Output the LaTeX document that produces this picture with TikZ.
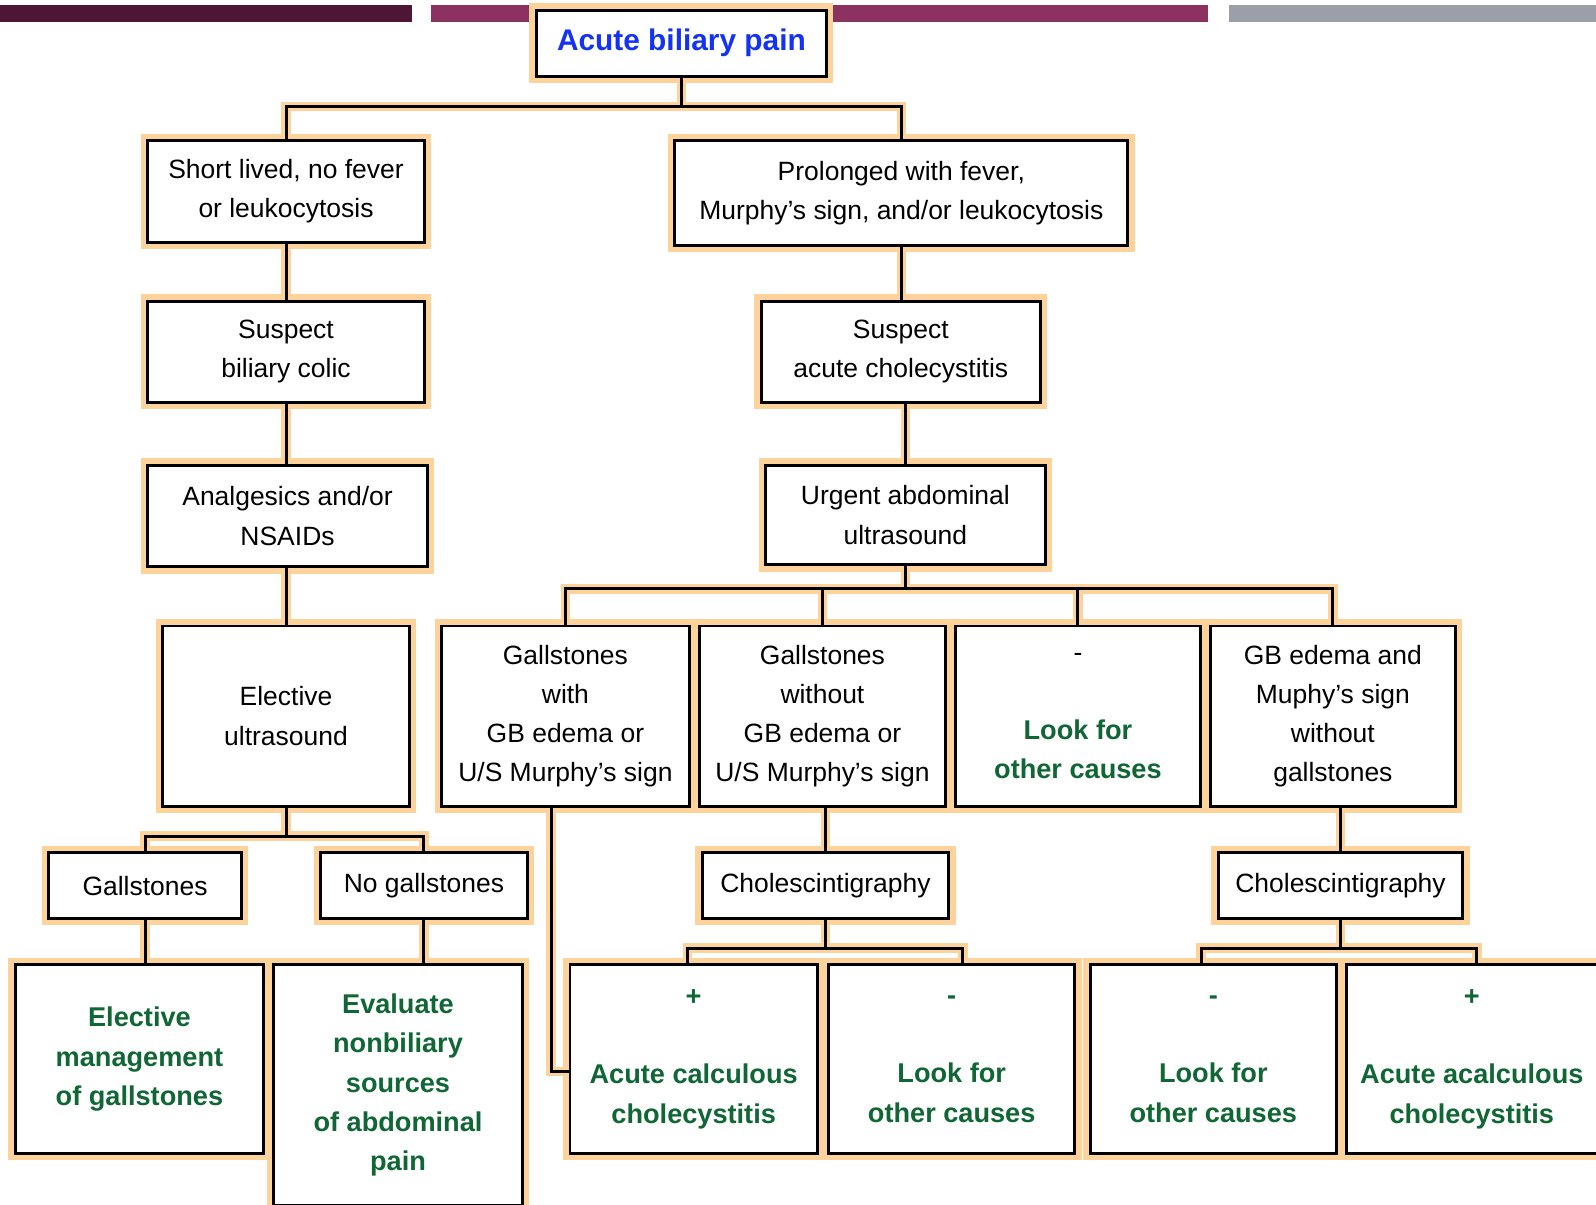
\documentclass[tikz,border=0pt]{standalone}
\usepackage{fontspec}
\setmainfont{Liberation Sans}
\usetikzlibrary{calc}
\pgfdeclarelayer{bg}
\pgfsetlayers{bg,main}
\definecolor{halo}{RGB}{253,211,155}
\definecolor{gtext}{RGB}{16,102,52}
\definecolor{btext}{RGB}{20,50,245}
\definecolor{barA}{RGB}{77,22,52}
\definecolor{barB}{RGB}{140,49,96}
\definecolor{barC}{RGB}{155,160,168}
\newcommand\conn[1]{\begin{pgfonlayer}{bg}\draw[haloline] #1;\end{pgfonlayer}\draw[cline] #1;}
\begin{document}
\begin{tikzpicture}[x=0.75pt,y=-0.75pt,
  box/.style={draw=black, line width=2.2pt, fill=white, inner sep=0pt, align=center,
    font=\fontsize{19.5}{28.9}\selectfont},
  gr/.style={font=\fontsize{20}{28.9}\selectfont\bfseries, text=gtext},
  sz/.style 2 args={minimum width=#1*0.75pt, minimum height=#2*0.75pt},
  cline/.style={draw=black, line width=2.2pt},
  haloline/.style={draw=halo, line width=7pt},
  halobox/.style={draw=halo, line width=8pt}]
\useasboundingbox (0,0) rectangle (1568,1183);
\begin{pgfonlayer}{bg}
\fill[barA] (0,5) rectangle (405,22);
\fill[barB] (423,5) rectangle (1187,22);
\fill[barC] (1207,5) rectangle (1568,22);
\end{pgfonlayer}

\node[box,sz={285}{65}] (A) at (669.5,42.5) {\color{btext}\fontsize{22}{28}\selectfont\bfseries Acute biliary pain};
\node[box,sz={272}{100}] (B1) at (281,188) {Short lived, no fever\\or leukocytosis};
\node[box,sz={445}{103}] (B2) at (885.5,189.5) {Prolonged with fever,\\Murphy's sign, and/or leukocytosis};
\node[box,sz={272}{99}] (C1) at (281,345.5) {Suspect\\biliary colic};
\node[box,sz={274}{99}] (C2) at (885,345.5) {Suspect\\acute cholecystitis};
\node[box,sz={275}{100}] (D1) at (282.5,507) {Analgesics and/or\\NSAIDs};
\node[box,sz={275}{98}] (D2) at (889.5,506) {Urgent abdominal\\ultrasound};
\node[box,sz={242}{177}] (E1) at (281,703.5) {Elective\\ultrasound};
\node[box,sz={243}{177}] (F1) at (555.5,703.5) {Gallstones\\with\\GB edema or\\U/S Murphy's sign};
\node[box,sz={242}{177}] (F2) at (808,703.5) {Gallstones\\without\\GB edema or\\U/S Murphy's sign};
\node[box,sz={240}{177}] (F3) at (1059,703.5) {-\\[28.9pt]{\color{gtext}\fontsize{20}{28.9}\selectfont\bfseries Look for}\\{\color{gtext}\fontsize{20}{28.9}\selectfont\bfseries other causes}};
\node[box,sz={241}{177}] (F4) at (1309.5,703.5) {GB edema and\\Muphy's sign\\without\\gallstones};
\node[box,sz={189}{64}] (G1) at (142.5,870) {Gallstones};
\node[box,sz={203}{64}] (G2) at (416.5,870) {No gallstones};
\node[box,sz={242}{64}] (J1) at (811,870) {Cholescintigraphy};
\node[box,sz={240}{64}] (J2) at (1317,870) {Cholescintigraphy};
\node[box,gr,sz={244}{185}] (H1) at (137,1040.5) {Elective\\management\\of gallstones};
\node[box,gr,sz={244}{236}] (H2) at (391,1066) {Evaluate\\nonbiliary\\sources\\of abdominal\\pain};
\node[box,gr,sz={243}{185}] (I1) at (681.5,1040.5) {+\\[28.9pt]Acute calculous\\cholecystitis};
\node[box,gr,sz={242}{185}] (I2) at (935,1040.5) {-\\[28.9pt]Look for\\other causes};
\node[box,gr,sz={242}{185}] (I3) at (1192,1040.5) {-\\[28.9pt]Look for\\other causes};
\node[box,gr,sz={246}{185}] (I4) at (1446,1040.5) {+\\[28.9pt]Acute acalculous\\cholecystitis};

\begin{pgfonlayer}{bg}
\foreach \n in {A,B1,B2,C1,C2,D1,D2,E1,F1,F2,F3,F4,G1,G2,J1,J2,H1,H2,I1,I2,I3,I4}
  {\draw[halobox] (\n.south west) rectangle (\n.north east);}
\end{pgfonlayer}

\coordinate (ab) at ($(A.south)+(0,28)$);
\coordinate (dbus) at ($(D2.south)+(0,22)$);
\coordinate (ebus) at ($(E1.south)+(0,28)$);
\coordinate (jbus) at ($(J1.south)+(0,28)$);
\coordinate (kbus) at ($(J2.south)+(0,28)$);

\conn{(A.south) -- (ab) -| (B1.north)}
\conn{(ab) -| (B2.north)}
\conn{(B1.south) -- (C1.north)}
\conn{(B2.south) -- (B2.south |- C2.north)}
\conn{(C1.south) -- (C1.south |- D1.north)}
\conn{(D2.north |- C2.south) -- (D2.north)}
\conn{(E1.north |- D1.south) -- (E1.north)}
\conn{(D2.south) -- (dbus) -| (F1.north)}
\conn{(dbus) -| (F2.north)}
\conn{(dbus) -| (F3.north)}
\conn{(dbus) -| (F4.north)}
\conn{(E1.south) -- (ebus) -| (G1.north)}
\conn{(ebus) -| (G2.north)}
\conn{(G1.south) -- (G1.south |- H1.north)}
\conn{(G2.south) -- (G2.south |- H2.north)}
\conn{($(F1.south)+(-14,0)$) |- ($(I1.west)+(0,12)$)}
\conn{(J1.north |- F2.south) -- (J1.north)}
\conn{(J1.south) -- (jbus) -| ($(I1.north)+(-6,0)$)}
\conn{(jbus) -| ($(I2.north)+(11,0)$)}
\conn{(J2.north |- F4.south) -- (J2.north)}
\conn{(J2.south) -- (kbus) -| ($(I3.north)+(-12,0)$)}
\conn{(kbus) -| ($(I4.north)+(5,0)$)}
\end{tikzpicture}
\end{document}
